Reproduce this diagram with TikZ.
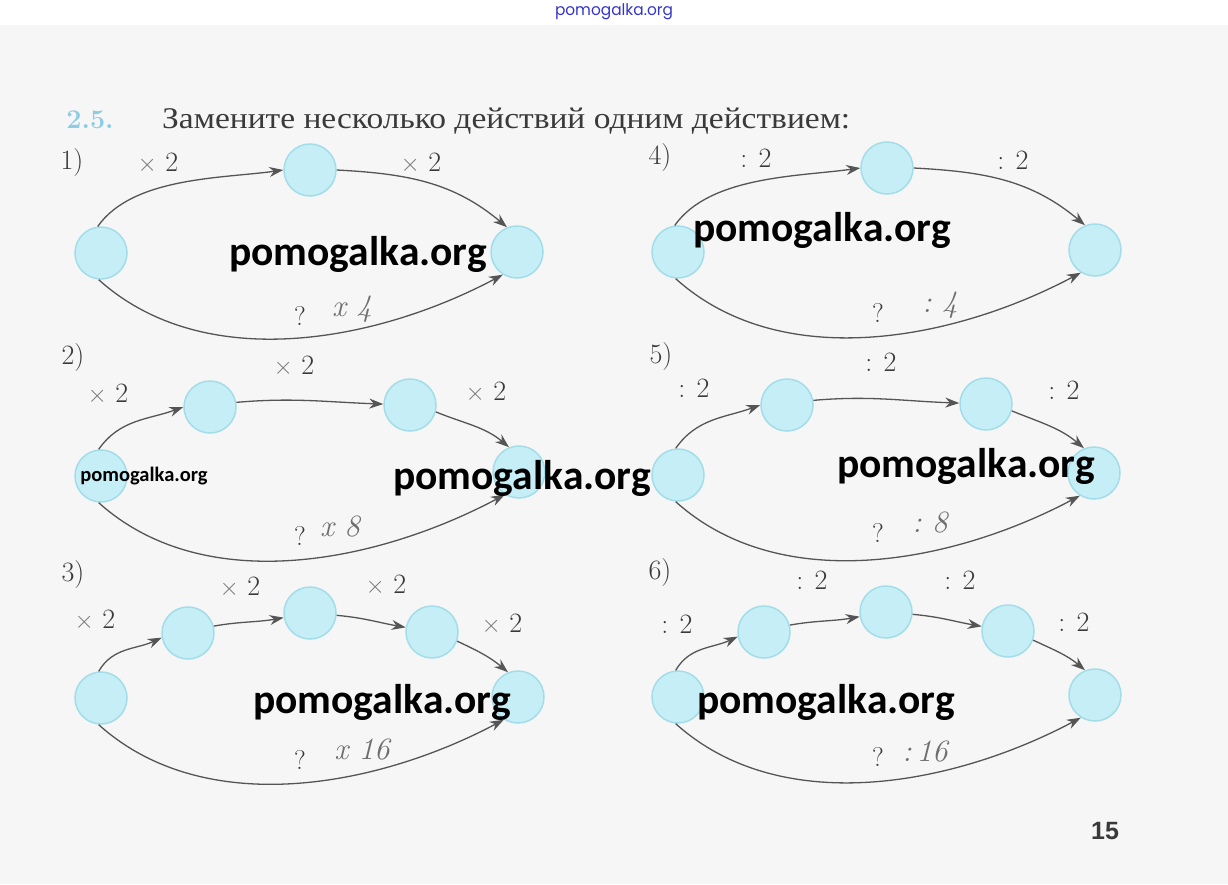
\documentclass[tikz,border=0pt]{standalone}
\usepackage{fontspec}
\usepackage{graphicx}
\usetikzlibrary{arrows.meta}
\newfontfamily\ruf{Liberation Serif}
\newfontfamily\wmf{Carlito}
\newfontfamily\topf{Poppins}
\newfontfamily\numf{Liberation Sans}
\definecolor{bg}{HTML}{F6F6F6}
\definecolor{cfill}{HTML}{C6EEF6}
\definecolor{cdraw}{HTML}{A2DDE9}
\definecolor{arr}{HTML}{555555}
\definecolor{txt}{HTML}{3A3A3A}
\definecolor{crossc}{HTML}{7A7A7A}
\definecolor{hand}{HTML}{6E6E6E}
\definecolor{numblue}{HTML}{8CCDE4}
\definecolor{wmblue}{HTML}{3535CC}
\newcommand{\tms}{{\color{crossc}$\times$}}
\begin{document}
\begin{tikzpicture}[x=1pt,y=1pt,
  ball/.style={circle,minimum size=52pt,inner sep=0pt,fill=cfill,draw=cdraw,line width=1.5pt},
  link/.style={draw=arr,line width=1.3pt,-{Stealth[length=14pt,width=10pt]}},
  op/.style={text=txt,font=\fontsize{28}{28}\selectfont,inner sep=0pt},
  qm/.style={text=txt,font=\fontsize{27}{27}\selectfont,inner sep=0pt},
  hw/.style={text=hand,font=\fontsize{31}{31}\selectfont\itshape,inner sep=0pt},
  wm/.style={text=black,font=\wmf\bfseries\fontsize{41.5}{41.5}\selectfont,inner sep=0pt},
  wms/.style={text=black,font=\wmf\bfseries\fontsize{20.5}{20.5}\selectfont,inner sep=0pt},
  bottom/.style={link,out=-42,in=-152,looseness=0.9},
  riseone/.style={link,out=55,in=188,looseness=0.8},
  risetwo/.style={link,out=55,in=200},
  risethree/.style={link,out=60,in=205}
]
\useasboundingbox (0,0) rectangle (1228,-884);
\fill[bg] (0,-25) rectangle (1228,-884);
\fill[white] (0,0) rectangle (1228,-25);

% header
\node[text=wmblue,font=\topf\fontsize{16}{16}\selectfont,inner sep=0pt] (top) at (614,-12) {\resizebox{118pt}{\height}{pomogalka.org}};
\node[text=numblue,font=\bfseries\fontsize{27}{27}\selectfont,inner sep=0pt] (num) at (90,-120) {2.5.};
\node[text=txt,anchor=west,inner sep=0pt] (title) at (162,-121) {\resizebox{688pt}{\height}{\ruf\fontsize{30}{30}\selectfont Замените несколько действий одним действием:}};
\node[text=txt,font=\numf\bfseries\fontsize{25}{25}\selectfont,inner sep=0pt] (page) at (1105,-831) {15};

% ---------- panel 1
\node[ball] (p1a) at (101,-253) {};
\node[ball] (p1b) at (310,-170) {};
\node[ball] (p1c) at (517,-252) {};
\draw[riseone] (p1a.97) to (p1b.180);
\draw[link] (p1b.east) to[out=-3,in=140] (p1c.112);
\draw[bottom] (p1a.265) to (p1c.238);
\node[op] (n1) at (72,-163) {1)};
\node[op] (l1a) at (158,-163) {\tms\ 2};
\node[op] (l1b) at (421,-163) {\tms\ 2};
\node[qm] (q1) at (300,-316) {?};
\node[hw] (h1) at (352,-309) {x\,\,4};

% ---------- panel 4
\node[ball] (p4a) at (678,-252) {};
\node[ball] (p4b) at (887,-168) {};
\node[ball] (p4c) at (1095,-250) {};
\draw[riseone] (p4a.97) to (p4b.180);
\draw[link] (p4b.east) to[out=-3,in=140] (p4c.112);
\draw[bottom] (p4a.265) to (p4c.238);
\node[op] (n4) at (660,-158) {4)};
\node[op] (l4a) at (756,-158) {: 2};
\node[op] (l4b) at (1013,-160) {: 2};
\node[qm] (q4) at (878,-313) {?};
\node[hw] (h4) at (940,-305) {:\,\,4};

% ---------- panel 2
\node[ball] (p2a) at (101,-476) {};
\node[ball] (p2b) at (210,-407) {};
\node[ball] (p2c) at (410,-405) {};
\node[ball] (p2d) at (519,-472) {};
\draw[risetwo] (p2a.95) to (p2b.180);
\draw[link] (p2b.10) to[out=5,in=178] (p2c);
\draw[link] (p2c.-15) to[out=-22,in=140] (p2d.112);
\draw[bottom] (p2a.265) to (p2d.238);
\node[op] (n2) at (73,-358) {2)};
\node[op] (l2a) at (108,-394) {\tms\ 2};
\node[op] (l2b) at (294,-366) {\tms\ 2};
\node[op] (l2c) at (486,-392) {\tms\ 2};
\node[qm] (q2) at (300,-536) {?};
\node[hw] (h2) at (340,-527) {x\,\,8};

% ---------- panel 5
\node[ball] (p5a) at (678,-475) {};
\node[ball] (p5b) at (787,-405) {};
\node[ball] (p5c) at (986,-404) {};
\node[ball] (p5d) at (1094,-473) {};
\draw[risetwo] (p5a.95) to (p5b.180);
\draw[link] (p5b.10) to[out=5,in=178] (p5c);
\draw[link] (p5c.-15) to[out=-22,in=140] (p5d.112);
\draw[bottom] (p5a.265) to (p5d.238);
\node[op] (n5) at (661,-357) {5)};
\node[op] (l5a) at (694,-388) {: 2};
\node[op] (l5b) at (881,-362) {: 2};
\node[op] (l5c) at (1064,-390) {: 2};
\node[qm] (q5) at (878,-533) {?};
\node[hw] (h5) at (930,-523) {:\,\,8};

% ---------- panel 3
\node[ball] (p3a) at (101,-698) {};
\node[ball] (p3b) at (188,-633) {};
\node[ball] (p3c) at (310,-613) {};
\node[ball] (p3d) at (432,-632) {};
\node[ball] (p3e) at (518,-697) {};
\draw[risethree] (p3a.95) to (p3b.190);
\draw[link] (p3b.15) to[out=10,in=190] (p3c);
\draw[link] (p3c.-5) to[out=-5,in=170] (p3d);
\draw[link] (p3d.-20) to[out=-25,in=140] (p3e.112);
\draw[bottom] (p3a.265) to (p3e.238);
\node[op] (n3) at (73,-575) {3)};
\node[op] (l3a) at (95,-620) {\tms\ 2};
\node[op] (l3b) at (240,-587) {\tms\ 2};
\node[op] (l3c) at (386,-585) {\tms\ 2};
\node[op] (l3d) at (502,-624) {\tms\ 2};
\node[qm] (q3) at (300,-760) {?};
\node[hw] (h3) at (362,-750) {x\,\,16};

% ---------- panel 6
\node[ball] (p6a) at (678,-697) {};
\node[ball] (p6b) at (764,-632) {};
\node[ball] (p6c) at (886,-612) {};
\node[ball] (p6d) at (1008,-631) {};
\node[ball] (p6e) at (1095,-695) {};
\draw[risethree] (p6a.95) to (p6b.190);
\draw[link] (p6b.15) to[out=10,in=190] (p6c);
\draw[link] (p6c.-5) to[out=-5,in=170] (p6d);
\draw[link] (p6d.-20) to[out=-25,in=140] (p6e.112);
\draw[bottom] (p6a.265) to (p6e.238);
\node[op] (n6) at (660,-573) {6)};
\node[op] (l6a) at (677,-624) {: 2};
\node[op] (l6b) at (812,-580) {: 2};
\node[op] (l6c) at (960,-580) {: 2};
\node[op] (l6d) at (1074,-622) {: 2};
\node[qm] (q6) at (878,-757) {?};
\node[hw] (h6) at (925,-752) {:\,16};

% ---------- watermarks
\node[wm] (w1) at (358,-254) {pomogalka.org};
\node[wm] (w2) at (822,-230) {pomogalka.org};
\node[wm] (w3) at (522,-478) {pomogalka.org};
\node[wm] (w4) at (966,-466) {pomogalka.org};
\node[wm] (w5) at (382,-702) {pomogalka.org};
\node[wm] (w6) at (826,-702) {pomogalka.org};
\node[wms] (w7) at (144,-476) {pomogalka.org};
\end{tikzpicture}
\end{document}
